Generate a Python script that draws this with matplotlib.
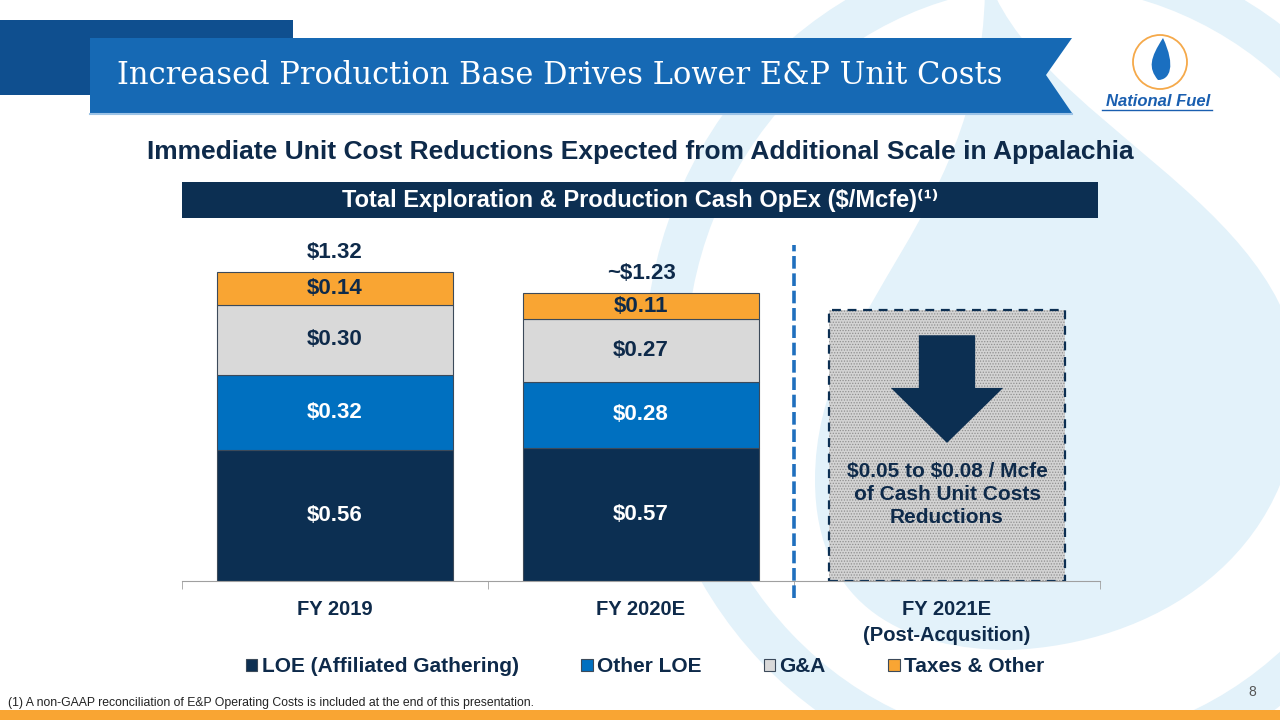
import numpy as np
import matplotlib.pyplot as plt
from matplotlib.patches import Polygon, Rectangle, Ellipse, Circle, FancyArrow, PathPatch
from matplotlib.path import Path

plt.rcParams['font.family'] = ['Liberation Sans', 'DejaVu Sans']
plt.rcParams['hatch.linewidth'] = 0.6

# data
categories = ['FY 2019', 'FY 2020E', 'FY 2021E\n(Post-Acqusition)']
series_names = ['LOE (Affiliated Gathering)', 'Other LOE', 'G&A', 'Taxes & Other']
loe_affiliated = [0.56, 0.57]
other_loe = [0.32, 0.28]
g_and_a = [0.30, 0.27]
taxes_other = [0.14, 0.11]
total_labels = ['$1.32', '~$1.23']
fy2021_box = 1.16   # placeholder box height for FY 2021E
reduction_text = '\\$0.05 to \\$0.08 / Mcfe\nof Cash Unit Costs\nReductions'

NAVY = '#0c2f52'
BLUE = '#0070c0'
GREY = '#d9d9d9'
ORANGE = '#f9a533'
TXT = '#0e2a4a'
WM = '#e3f2fa'

fig = plt.figure(figsize=(12.8, 7.2), dpi=100)

# background / slide decorations in pixel coords
bg = fig.add_axes([0, 0, 1, 1])
bg.set_xlim(0, 1280)
bg.set_ylim(720, 0)
bg.axis('off')

# watermark logo
bg.add_patch(Ellipse((1045, 365), 760, 800, fill=False, ec=WM, lw=30, zorder=0))
drop = Path([(985, -30), (990, 220), (815, 300), (815, 480),
             (815, 610), (910, 650), (1010, 650),
             (1150, 645), (1300, 560), (1300, 380),
             (1290, 200), (1030, 120), (985, -30)],
            [Path.MOVETO, Path.CURVE4, Path.CURVE4, Path.CURVE4,
             Path.CURVE4, Path.CURVE4, Path.CURVE4,
             Path.CURVE4, Path.CURVE4, Path.CURVE4,
             Path.CURVE4, Path.CURVE4, Path.CURVE4])
bg.add_patch(PathPatch(drop, fc=WM, ec='none', zorder=0))

# title banner
bg.add_patch(Polygon([(0, 20), (293, 20), (293, 95), (0, 95)], closed=True, fc='#0f4f8f', ec='none', zorder=1))
bg.add_patch(Polygon([(90, 95), (293, 45), (293, 95)], closed=True, fc='#1d3f66', ec='none', zorder=1))
bg.add_patch(Polygon([(90, 38), (1072, 38), (1046, 75), (1072, 113), (90, 113)], closed=True,
                     fc='#1669b4', ec='none', zorder=2))
bg.plot([90, 1072], [114, 114], color='#9cc3e6', lw=1.5, zorder=2)
bg.text(117, 76, 'Increased Production Base Drives Lower E&P Unit Costs', color='white',
        fontsize=22, family='DejaVu Serif', va='center', ha='left', zorder=3)

# logo
bg.add_patch(Circle((1160, 62), 27, fill=False, ec='#f5a94a', lw=1.3, zorder=2))
logo_drop = Path([(1163, 38), (1150, 58), (1148, 68), (1158, 80), (1170, 80), (1176, 66), (1163, 38)],
                 [Path.MOVETO, Path.CURVE4, Path.CURVE4, Path.CURVE4, Path.CURVE4, Path.CURVE4, Path.CURVE4])
bg.add_patch(PathPatch(logo_drop, fc='#1a6fc0', ec='none', zorder=2))
bg.text(1158, 102, 'National Fuel', color='#1a5fb0', fontsize=12, fontweight='bold',
        style='italic', ha='center', va='center', zorder=2)
bg.plot([1102, 1212], [110, 110], color='#1a5fb0', lw=1, zorder=2)

# subtitle and header box
bg.text(640, 152, 'Immediate Unit Cost Reductions Expected from Additional Scale in Appalachia',
        color=TXT, fontsize=19, fontweight='bold', ha='center', va='center', zorder=3)
bg.add_patch(Rectangle((182, 182), 916, 36, fc=NAVY, ec='none', zorder=2))
bg.text(640, 201, 'Total Exploration & Production Cash OpEx ($/Mcfe)⁽¹⁾', color='white',
        fontsize=17, fontweight='bold', ha='center', va='center', zorder=3)

# footer
bg.add_patch(Rectangle((0, 710), 1280, 10, fc=ORANGE, ec='none', zorder=2))
bg.text(8, 703, '(1) A non-GAAP reconciliation of E&P Operating Costs is included at the end of this presentation.',
        color='#222222', fontsize=8.8, ha='left', va='center', zorder=3)
bg.text(1252, 692, '8', color='#555555', fontsize=10, ha='center', va='center', zorder=3)

# chart
ax = fig.add_axes([182 / 1280, (720 - 581) / 720, 918 / 1280, 341 / 720])
ax.patch.set_alpha(0)
x = np.arange(len(loe_affiliated))
w = 0.77
series = [loe_affiliated, other_loe, g_and_a, taxes_other]
colors = [NAVY, BLUE, GREY, ORANGE]
label_colors = ['white', 'white', TXT, TXT]
bottom = np.zeros(len(x))
handles = []
for vals, col, lc, name in zip(series, colors, label_colors, series_names):
    bars = ax.bar(x, vals, w, bottom=bottom, color=col, edgecolor='#3c4a5a', linewidth=0.8,
                  label=name, zorder=3)
    handles.append(bars)
    for xi, v, b in zip(x, vals, bottom):
        ax.text(xi, b + v / 2, f'${v:.2f}', ha='center', va='center', color=lc,
                fontsize=16, fontweight='bold', zorder=4)
    bottom = bottom + np.array(vals)

for xi, tot, lab in zip(x, bottom, total_labels):
    ax.annotate(lab, (xi, tot), xytext=(0, 14), textcoords='offset points', ha='center',
                va='center', color=TXT, fontsize=16, fontweight='bold')

# FY 2021E placeholder box
ax.bar([2], [fy2021_box], w, color='#d3d3d3', edgecolor='#8f8f8f', hatch='......', linewidth=0, zorder=2)
ax.bar([2], [fy2021_box], w, fill=False, edgecolor=NAVY, linewidth=1.6, linestyle=(0, (4, 3)), zorder=3)
ax.add_patch(FancyArrow(2, 1.05, 0, -0.46, width=0.184, head_width=0.367, head_length=0.235,
                        length_includes_head=True, fc=NAVY, ec='none', zorder=4))
ax.text(2, 0.37, reduction_text, ha='center', va='center', color=TXT, fontsize=15,
        fontweight='bold', linespacing=1.25, zorder=4)

# separator
ax.plot([1.5, 1.5], [-0.073, 1.436], color='#1f6fbe', lw=2.6, linestyle=(0, (3.5, 1.3)),
        clip_on=False, zorder=4)

ax.set_xlim(-0.5, 2.5)
ax.set_ylim(0, 1.457)
ax.set_xticks(range(len(categories)))
ax.set_xticklabels(categories, fontsize=14.5, fontweight='bold', color=TXT)
for lab in ax.get_xticklabels():
    lab.set_linespacing(1.45)
ax.set_xticks([-0.5, 0.5, 1.5, 2.5], minor=True)
ax.tick_params(axis='x', which='major', length=0, pad=14)
ax.tick_params(axis='x', which='minor', length=6, color='#a0a0a0', direction='out')
ax.set_yticks([])
for s in ['top', 'right', 'left']:
    ax.spines[s].set_visible(False)
ax.spines['bottom'].set_color('#a0a0a0')
ax.spines['bottom'].set_zorder(5)

fig.legend(handles=handles, labels=series_names, loc='center', bbox_to_anchor=(645 / 1280, 1 - 667 / 720),
           ncol=4, frameon=False, handlelength=0.55, handleheight=0.55,
           handletextpad=0.2, columnspacing=3.0, labelcolor=TXT,
           prop={'weight': 'bold', 'size': 15})

fig.savefig('out.png', dpi=100)
